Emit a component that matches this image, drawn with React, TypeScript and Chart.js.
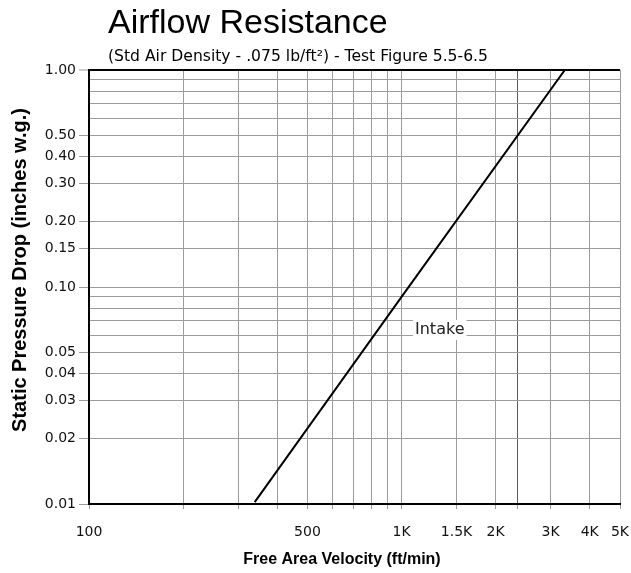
import React, { useEffect, useRef } from "react";
import { Chart, registerables } from "chart.js";

Chart.register(...registerables);

// ---- data ----
const velocity = [339, 1000, 3330]; // ft/min
const pressure = [0.0102, 0.09, 1.0]; // inches w.g.

const xGridValues = [100, 200, 300, 400, 500, 600, 700, 800, 900, 1000, 1500, 2000, 2350, 3000, 4000, 5000];
const xTickLabels: Record<number, string> = {
  100: "100",
  500: "500",
  1000: "1K",
  1500: "1.5K",
  2000: "2K",
  3000: "3K",
  4000: "4K",
  5000: "5K",
};
const yGridValues = [0.01, 0.02, 0.03, 0.04, 0.05, 0.06, 0.07, 0.08, 0.09, 0.1, 0.15, 0.2, 0.3, 0.4, 0.5, 0.6, 0.7, 0.8, 0.9, 1];
const yLabelledValues = [0.01, 0.02, 0.03, 0.04, 0.05, 0.1, 0.15, 0.2, 0.3, 0.4, 0.5, 1];

const seriesLabel = "Intake";
const intakeLabelPos = { x: 1325, y: 0.0634 };

const TITLE = "Airflow Resistance";
const SUBTITLE = "(Std Air Density - .075 lb/ft\u00B2) - Test Figure 5.5-6.5";
const X_TITLE = "Free Area Velocity (ft/min)";
const Y_TITLE = "Static Pressure Drop (inches w.g.)";

const FONT = '"Liberation Sans", Arial, Helvetica, sans-serif';
const FONT2 = '"DejaVu Sans", Verdana, sans-serif';
const GRID = "#9c9c9c";

const textPlugin = {
  id: "chartTexts",
  afterDatasetsDraw(chart: any) {
    const ctx = chart.ctx;
    const xs = chart.scales.x;
    const ys = chart.scales.y;
    const px = xs.getPixelForValue(intakeLabelPos.x);
    const py = ys.getPixelForValue(intakeLabelPos.y);
    ctx.save();
    ctx.font = `16px ${FONT2}`;
    const w = ctx.measureText(seriesLabel).width;
    ctx.fillStyle = "#fff";
    ctx.fillRect(px - w / 2 - 2, py - 10, w + 4, 20);
    ctx.fillStyle = "#222";
    ctx.textAlign = "center";
    ctx.textBaseline = "middle";
    ctx.fillText(seriesLabel, px, py);
    ctx.restore();
  },
  afterDraw(chart: any) {
    const ctx = chart.ctx;
    const { left } = chart.chartArea;
    ctx.save();
    ctx.fillStyle = "#000";
    ctx.textAlign = "left";
    ctx.textBaseline = "alphabetic";
    ctx.font = `34px ${FONT}`;
    ctx.fillText(TITLE, left + 19, 33);
    ctx.font = `15.6px ${FONT2}`;
    ctx.fillText(SUBTITLE, left + 19, 61);

    ctx.font = `bold 16px ${FONT}`;
    ctx.textAlign = "center";
    ctx.fillText(X_TITLE, 342, 564);

    ctx.translate(26, 270);
    ctx.rotate(-Math.PI / 2);
    ctx.font = `bold 20px ${FONT}`;
    ctx.textAlign = "center";
    ctx.fillText(Y_TITLE, 0, 0);
    ctx.restore();
  },
};

export default function App() {
  const canvasRef = useRef<HTMLCanvasElement | null>(null);

  useEffect(() => {
    if (!canvasRef.current) return;
    const chart = new Chart(canvasRef.current, {
      type: "line",
      data: {
        datasets: [
          {
            label: seriesLabel,
            data: velocity.map((v, i) => ({ x: v, y: pressure[i] })),
            borderColor: "#000",
            borderWidth: 2,
            pointRadius: 0,
            fill: false,
            tension: 0,
          },
        ],
      },
      plugins: [textPlugin],
      options: {
        responsive: false,
        animation: false,
        layout: { padding: { top: 70, right: 11, left: 0, bottom: 0 } },
        plugins: {
          legend: { display: false },
          title: { display: false },
          tooltip: { enabled: false },
        },
        scales: {
          x: {
            type: "logarithmic",
            min: 100,
            max: 5000,
            afterBuildTicks: (scale: any) => {
              scale.ticks = xGridValues.map((v) => ({ value: v }));
            },
            afterFit: (scale: any) => {
              scale.height = 69;
              scale.paddingLeft = 0;
              scale.paddingRight = 0;
            },
            ticks: {
              autoSkip: false,
              maxRotation: 0,
              minRotation: 0,
              padding: 15,
              color: "#111",
              font: { family: FONT2, size: 14 },
              callback: (value: any) => xTickLabels[Number(value)] ?? "",
            },
            grid: {
              color: (ctx: any) => (ctx.tick && ctx.tick.value === 2350 ? "#5a5a5a" : GRID),
              lineWidth: 1,
              tickLength: 5,
              tickWidth: 1,
              tickColor: GRID,
            },
            border: { color: "#000", width: 2 },
          },
          y: {
            type: "logarithmic",
            min: 0.01,
            max: 1,
            afterBuildTicks: (scale: any) => {
              scale.ticks = yGridValues.map((v) => ({ value: v }));
            },
            afterFit: (scale: any) => {
              scale.width = 89;
              scale.paddingTop = 0;
              scale.paddingBottom = 0;
            },
            ticks: {
              autoSkip: false,
              padding: 3,
              color: "#111",
              font: { family: FONT2, size: 14 },
              callback: (value: any) => {
                const v = Number(value);
                return yLabelledValues.some((l) => Math.abs(l - v) < 1e-9) ? v.toFixed(2) : "";
              },
            },
            grid: {
              color: (ctx: any) => (ctx.tick && ctx.tick.value === 1 ? "#000" : GRID),
              lineWidth: (ctx: any) => (ctx.tick && ctx.tick.value === 1 ? 2 : 1),
              tickLength: 10,
              tickWidth: 1,
              tickColor: (ctx: any) =>
                ctx.tick && yLabelledValues.some((l) => Math.abs(l - ctx.tick.value) < 1e-9) ? GRID : "rgba(0,0,0,0)",
            },
            border: { color: "#000", width: 2 },
          },
        },
      },
    } as any);
    return () => chart.destroy();
  }, []);

  return (
    <div style={{ position: "fixed", left: 0, top: 0, width: 631, height: 573, background: "#fff" }}>
      <canvas ref={canvasRef} width={631} height={573} style={{ display: "block" }} />
    </div>
  );
}
